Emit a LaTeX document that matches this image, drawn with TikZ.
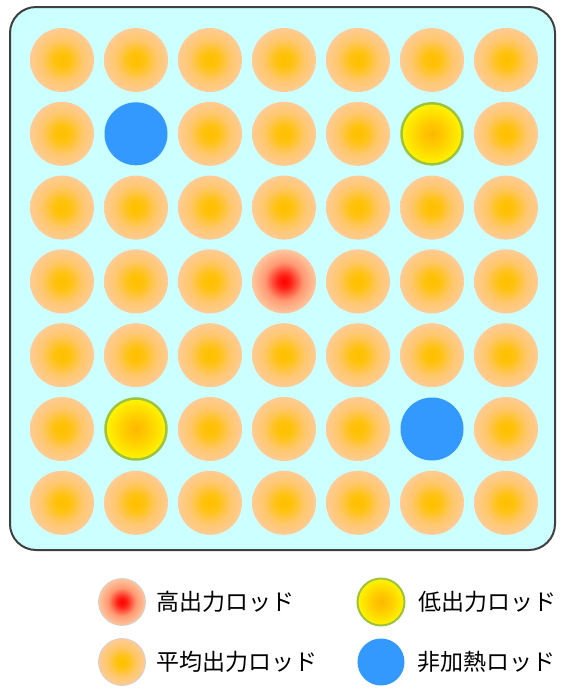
\documentclass[tikz,border=0pt]{standalone}
\usepackage{fontspec}
\newfontfamily\jpfont{Noto Sans CJK JP}
\usetikzlibrary{positioning}

\definecolor{poolcyan}{RGB}{204,255,255}
\definecolor{tankline}{RGB}{64,64,64}
\definecolor{coldblue}{RGB}{51,153,255}
\definecolor{lowrim}{RGB}{160,195,60}

\pgfdeclareradialshading{avgshade}{\pgfpoint{0bp}{0bp}}{%
  rgb(0bp)=(1,0.75,0); rgb(6bp)=(1,0.76,0.05); rgb(16bp)=(1,0.78,0.42);
  rgb(26bp)=(1,0.8,0.6); rgb(44bp)=(1,0.83,0.7); rgb(50bp)=(0.93,0.91,0.83)}
\pgfdeclareradialshading{hotshade}{\pgfpoint{0bp}{0bp}}{%
  rgb(0bp)=(1,0,0); rgb(5bp)=(1,0.12,0.08); rgb(15bp)=(1,0.6,0.45);
  rgb(26bp)=(1,0.8,0.64); rgb(44bp)=(1,0.84,0.72); rgb(50bp)=(0.94,0.91,0.84)}
\pgfdeclareradialshading{lowshade}{\pgfpoint{0bp}{0bp}}{%
  rgb(0bp)=(1,0.72,0); rgb(10bp)=(1,0.8,0); rgb(24bp)=(1,0.95,0);
  rgb(38bp)=(1,1,0); rgb(50bp)=(0.9,0.93,0.1)}

\begin{document}
\begin{tikzpicture}[
  x=1pt, y=-1pt,
  font=\jpfont\fontsize{23}{26}\selectfont,
  tank/.style={draw=tankline, line width=2pt, fill=poolcyan, rounded corners=26pt,
               minimum width=545pt, minimum height=543pt, inner sep=0pt},
  rod/.style={circle, inner sep=0pt, minimum size=64pt},
  avgrod/.style={rod, shading=avgshade},
  hotrod/.style={rod, shading=hotshade},
  lowrod/.style={rod, shading=lowshade, draw=lowrim, line width=2.5pt, minimum size=61pt},
  coldrod/.style={rod, fill=coldblue, minimum size=63pt},
  key/.style={minimum size=47pt},
  keyrim/.style={draw=black!18, line width=0.8pt},
  keytext/.style={inner sep=1pt}
]
\useasboundingbox (0,0) rectangle (563,689);

% ---------------- core ----------------
\node[tank] (core) at (282.5,278.5) {};

\foreach \r in {1,...,7}{
  \foreach \c in {1,...,7}{
    \def\kind{avgrod}
    \ifnum\r\c=22 \def\kind{coldrod}\fi
    \ifnum\r\c=66 \def\kind{coldrod}\fi
    \ifnum\r\c=26 \def\kind{lowrod}\fi
    \ifnum\r\c=62 \def\kind{lowrod}\fi
    \ifnum\r\c=44 \def\kind{hotrod}\fi
    \node[\kind] (rod-\r-\c) at ({62+74*(\c-1)},{60+73.8*(\r-1)}) {};
  }
}

% ---------------- legend ----------------
\node[hotrod, key, keyrim] (leg-hot) at (122,602) {};
\node[lowrod, key, line width=2pt] (leg-low) at (381,602) {};
\node[avgrod, key, keyrim] (leg-avg) at (122,662) {};
\node[coldrod, key] (leg-cold) at (381,662) {};

\node[keytext, right=9pt of leg-hot] (txt-hot) {高出力ロッド};
\node[keytext, right=12pt of leg-low] (txt-low) {低出力ロッド};
\node[keytext, right=9pt of leg-avg] (txt-avg) {平均出力ロッド};
\node[keytext, right=12pt of leg-cold] (txt-cold) {非加熱ロッド};

\end{tikzpicture}
\end{document}
